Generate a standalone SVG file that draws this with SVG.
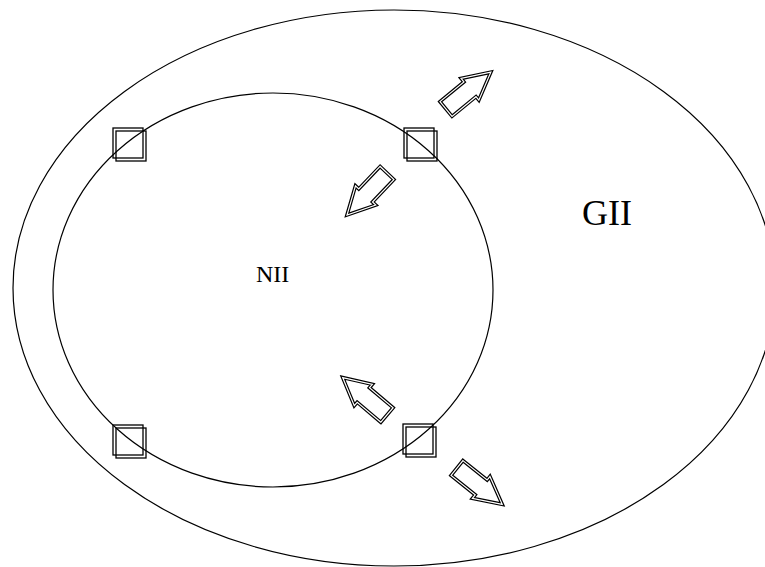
<svg xmlns="http://www.w3.org/2000/svg" width="765" height="567" viewBox="0 0 765 567">
<style>
.e{fill:none;stroke:#000;stroke-width:1.2}
.sq{fill:none;stroke:#000;stroke-width:1.3}
.ao{fill:#fff;stroke:#000;stroke-width:3.6;stroke-linejoin:miter}
.ai{fill:none;stroke:#fff;stroke-width:1.2;stroke-linejoin:miter}
.t{font-family:"Liberation Serif","Times New Roman",serif;fill:#000}
</style>
<defs>
<polygon id="arr" points="0,-9.5 31,-9.5 31,-14 58,0 31,14 31,9.5 0,9.5"/>
<g id="sqd"><rect class="sq" x="0" y="0" width="30" height="30"/><rect class="sq" x="3" y="3" width="30" height="30"/></g>
</defs>
<g id="outer"><ellipse class="e" cx="394" cy="288" rx="381" ry="278"/></g>
<g id="inner"><ellipse class="e" cx="273" cy="290" rx="220" ry="197"/></g>
<g id="squares">
<use href="#sqd" x="113" y="128"/>
<use href="#sqd" x="404" y="128"/>
<use href="#sqd" x="113" y="425"/>
<use href="#sqd" x="403" y="424"/>
</g>
<g id="arrows">
<g transform="translate(446,109) rotate(-39.4)"><use href="#arr" class="ao"/><use href="#arr" class="ai"/></g>
<g transform="translate(387,173) rotate(133.6)"><use href="#arr" class="ao"/><use href="#arr" class="ai"/></g>
<g transform="translate(387,415) rotate(220.2)"><use href="#arr" class="ao"/><use href="#arr" class="ai"/></g>
<g transform="translate(457,468) rotate(38.8)"><use href="#arr" class="ao"/><use href="#arr" class="ai"/></g>
</g>
<g id="labels">
<text class="t" x="256" y="282" font-size="24">NII</text>
<text class="t" x="582" y="225" font-size="36">GII</text>
</g>
</svg>
